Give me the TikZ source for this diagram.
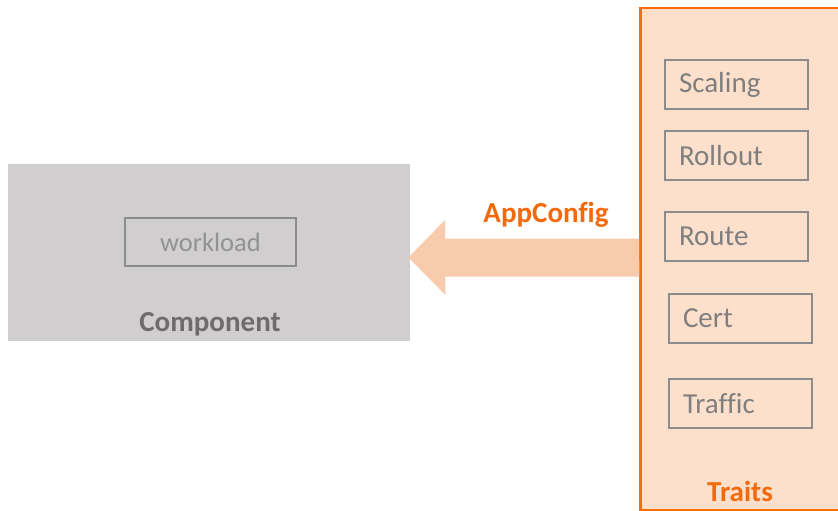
\documentclass[tikz,border=0pt]{standalone}
\usepackage{fontspec}
\setmainfont{Carlito}[Ligatures=NoCommon]
\definecolor{compfill}{HTML}{D0CECE}
\definecolor{boxline}{HTML}{8C8C8C}
\definecolor{boxtext}{HTML}{7F7F7F}
\definecolor{comptext}{HTML}{6E6B6B}
\definecolor{traitfill}{HTML}{FDE0CB}
\definecolor{traitline}{HTML}{FA6E0A}
\definecolor{arrowfill}{HTML}{F7CBAC}
\definecolor{orangetext}{HTML}{F26A0C}
\begin{document}
\begin{tikzpicture}[x=1pt,y=-1pt,
  traitbox/.style={draw=boxline, line width=2pt, fill=none, rectangle,
    minimum height=49pt, text width=115pt, inner xsep=14pt, inner ysep=0pt,
    align=left, text=boxtext, font=\fontsize{29}{32}\selectfont, anchor=north west},
  boldlabel/.style={font=\bfseries\fontsize{29}{32}\selectfont}
]
\useasboundingbox (0,0) rectangle (838,511);
\clip (0,0) rectangle (838,511);

% component panel
\node[fill=compfill, minimum width=402pt, minimum height=177pt, inner sep=0pt, anchor=north west] (comp) at (8,164) {};
\node[draw=boxline, line width=2pt, minimum width=171pt, minimum height=48pt, inner sep=0pt, anchor=north west,
  text=boxtext!85, font=\fontsize{26.5}{29}\selectfont] (workload) at (124,217) {\raisebox{-1.5pt}{workload}};
\node[boldlabel, text=comptext] (complabel) at (210,324) {Component};

% traits panel
\node[fill=traitfill, draw=traitline, line width=2.5pt, minimum width=215pt, minimum height=502pt, inner sep=0pt, anchor=north west] (traits) at (639,7) {};
\node[traitbox] (scaling) at (664,59) {\raisebox{-1.5pt}{Scaling}};
\node[traitbox] (rollout) at (664,130) {\raisebox{-1.5pt}{Rollout}};
\node[traitbox] (route) at (664,211) {\raisebox{-1.5pt}{Route}};
\node[traitbox] (cert) at (668,293) {\raisebox{-1.5pt}{Cert}};
\node[traitbox] (traffic) at (668,378) {\raisebox{-1.5pt}{Traffic}};
\node[boldlabel, text=orangetext] (traitslabel) at (740,491) {Traits};

% block arrow from the traits panel to the component
\coordinate (tip) at ([xshift=-2pt]comp.east |- 0,257.5);
\coordinate (tail) at (traits.west |- 0,257.5);
\fill[arrowfill] (tail) ++(0,-19) -- ++(-194,0) -- ++(0,-18.5) -- (tip) -- ++(37,37.5) -- ++(0,-18.5) -- ++(194,0) -- cycle;
\node[boldlabel, text=orangetext] (appconfig) at (546,215) {AppConfig};
\end{tikzpicture}
\end{document}
